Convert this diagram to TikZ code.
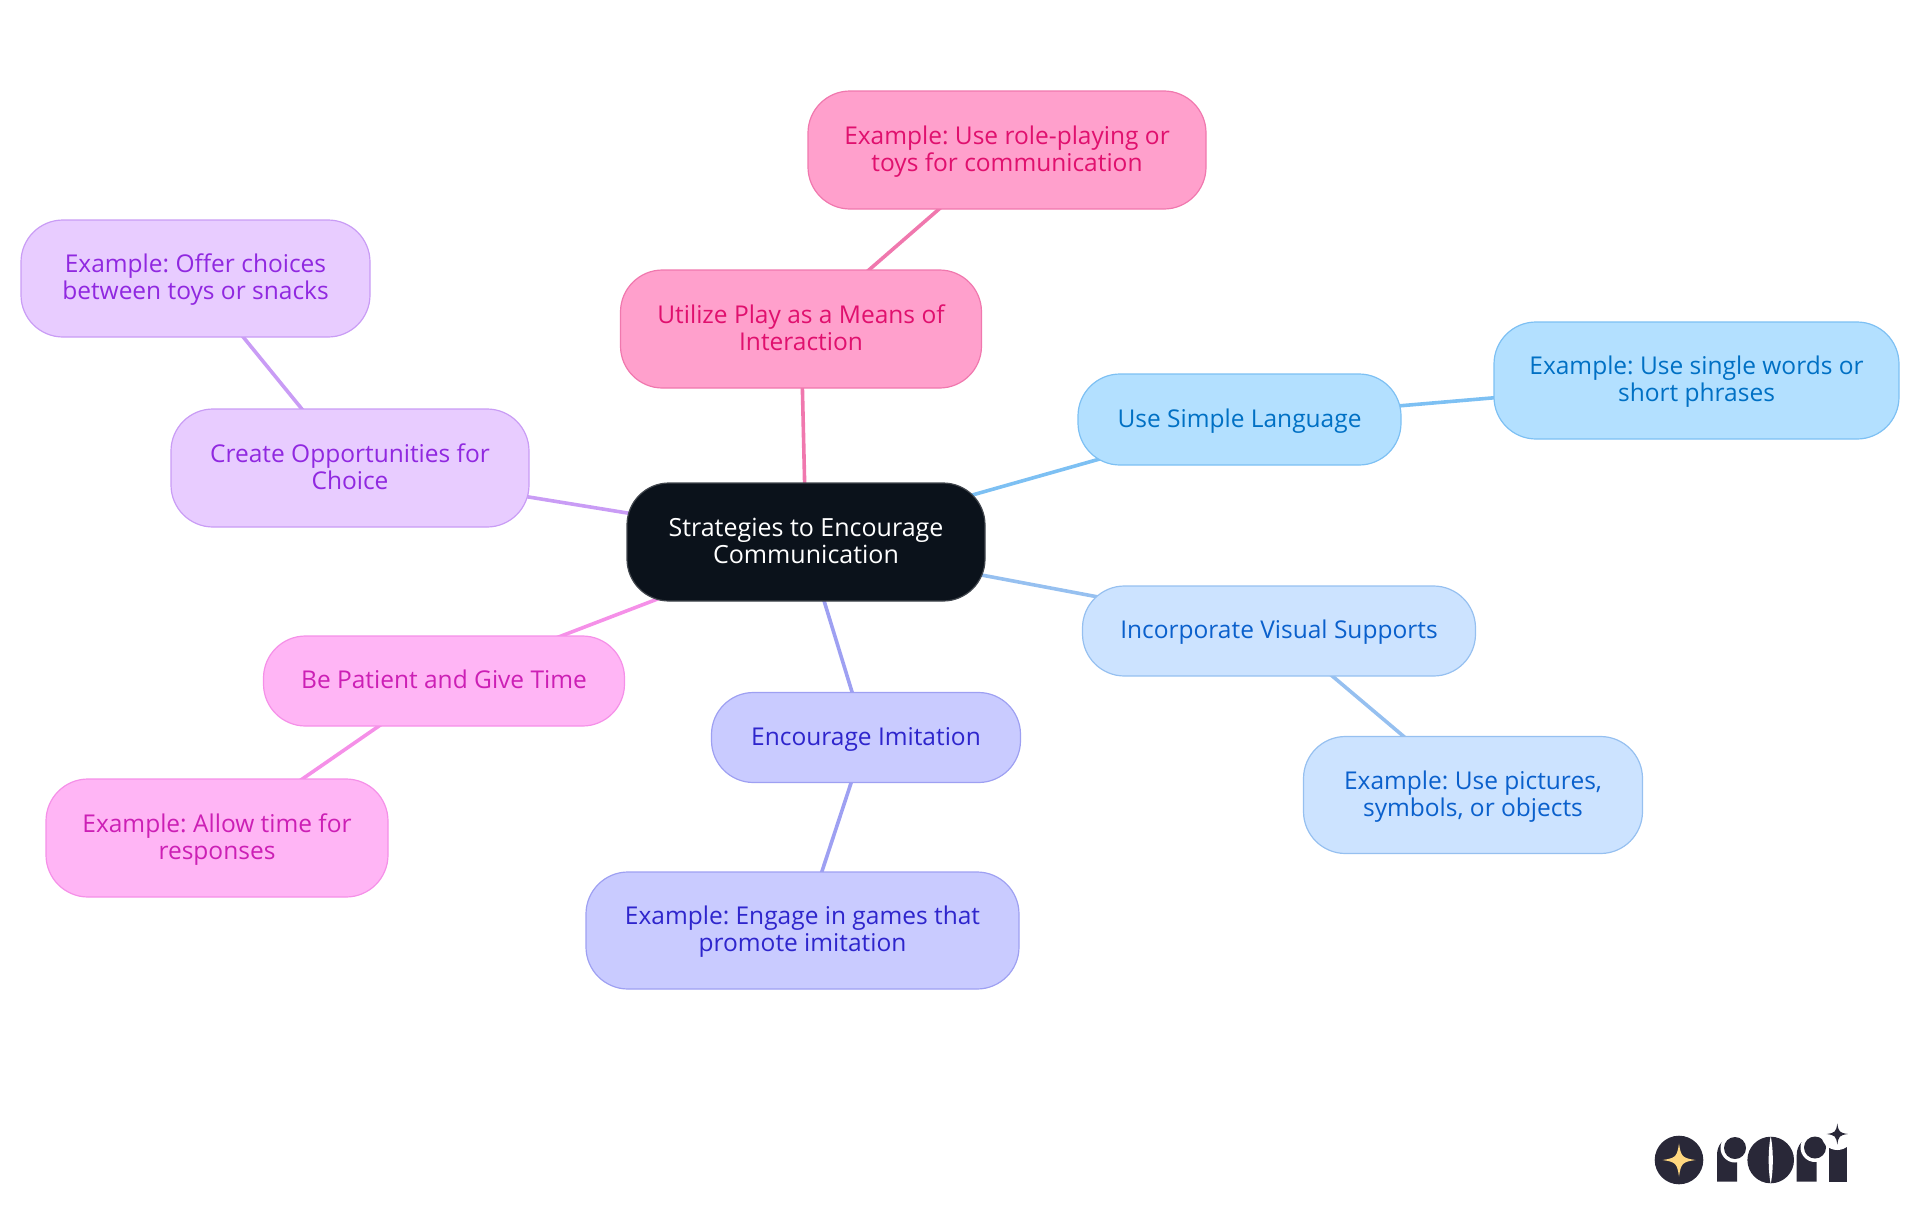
\documentclass[tikz,border=0pt]{standalone}
\usepackage{fontspec}
\setmainfont{Open Sans}
\frenchspacing
\usetikzlibrary{backgrounds}
\definecolor{rootF}{HTML}{0B121B}\definecolor{rootD}{HTML}{41464D}
\definecolor{skyF}{HTML}{B3E0FF}\definecolor{skyD}{HTML}{7DC0F3}\definecolor{skyT}{HTML}{0070C4}
\definecolor{paleF}{HTML}{CCE3FF}\definecolor{paleD}{HTML}{96C0F0}\definecolor{paleT}{HTML}{0A60CC}
\definecolor{indF}{HTML}{C9CBFF}\definecolor{indD}{HTML}{9EA0F2}\definecolor{indT}{HTML}{2E25CC}
\definecolor{magF}{HTML}{FFB5F5}\definecolor{magD}{HTML}{F590E8}\definecolor{magT}{HTML}{CC1FB5}
\definecolor{purF}{HTML}{E8CCFF}\definecolor{purD}{HTML}{C99CF5}\definecolor{purT}{HTML}{9028E0}
\definecolor{rosF}{HTML}{FFA0CC}\definecolor{rosD}{HTML}{F078AE}\definecolor{rosT}{HTML}{E0106E}
\definecolor{logoD}{HTML}{292838}\definecolor{logoS}{HTML}{FFD77F}
\tikzset{
 x=1pt,y=-1pt,
 box/.style={rectangle,rounded corners=42pt,line width=1.2pt,inner sep=0pt,
   font=\fontsize{24.5}{27}\selectfont},
 rootbox/.style={box,fill=rootF,draw=rootD,text=white,minimum width=358pt,minimum height=118pt,
   font=\fontsize{25}{27}\selectfont},
 sky/.style={box,fill=skyF,draw=skyD,text=skyT},
 pale/.style={box,fill=paleF,draw=paleD,text=paleT},
 ind/.style={box,fill=indF,draw=indD,text=indT},
 mag/.style={box,fill=magF,draw=magD,text=magT},
 pur/.style={box,fill=purF,draw=purD,text=purT},
 ros/.style={box,fill=rosF,draw=rosD,text=rosT},
 edge/.style={line width=3.6pt},
 logo/.style={fill=logoD,draw=none},
 gap/.style={fill=white,draw=none},
}
\newcommand{\boxtext}[1]{\raisebox{-8.5pt}[0pt][0pt]{\begin{tabular}{@{}c@{}}#1\end{tabular}}}
\newcommand{\fourstar}[4]{\fill[#4] (#1-#3,#2) .. controls (#1-#3*.2,#2-#3*.12) and (#1-#3*.12,#2-#3*.2) .. (#1,#2-#3)
  .. controls (#1+#3*.12,#2-#3*.2) and (#1+#3*.2,#2-#3*.12) .. (#1+#3,#2)
  .. controls (#1+#3*.2,#2+#3*.12) and (#1+#3*.12,#2+#3*.2) .. (#1,#2+#3)
  .. controls (#1-#3*.12,#2+#3*.2) and (#1-#3*.2,#2+#3*.12) .. (#1-#3,#2) -- cycle;}
\begin{document}
\begin{tikzpicture}
\useasboundingbox (0,0) rectangle (1920,1215);
\node[rootbox] (root) at (806,542) {\boxtext{Strategies to Encourage\\Communication}};
\node[ros,minimum width=361pt,minimum height=118pt] (play) at (801,329) {\boxtext{Utilize Play as a Means of\\Interaction}};
\node[ros,minimum width=398pt,minimum height=118pt] (playx) at (1007,150) {\boxtext{Example: Use role-playing or\\toys for communication}};
\node[pur,minimum width=358pt,minimum height=118pt] (choice) at (350,468) {\boxtext{Create Opportunities for\\Choice}};
\node[pur,minimum width=349pt,minimum height=117pt] (choicex) at (195.5,278.5) {\boxtext{Example: Offer choices\\between toys or snacks}};
\node[sky,minimum width=323pt,minimum height=91pt] (simple) at (1239.5,419.5) {\boxtext{Use Simple Language}};
\node[sky,minimum width=405pt,minimum height=117pt] (simplex) at (1696.5,380.5) {\boxtext{Example: Use single words or\\short phrases}};
\node[pale,minimum width=393pt,minimum height=90pt] (visual) at (1279,631) {\boxtext{Incorporate Visual Supports}};
\node[pale,minimum width=339pt,minimum height=117pt] (visualx) at (1473,795) {\boxtext{Example: Use pictures,\\symbols, or objects}};
\node[ind,minimum width=309pt,minimum height=90pt] (imit) at (866,737.5) {\boxtext{Encourage Imitation}};
\node[ind,minimum width=433pt,minimum height=117pt] (imitx) at (802.5,930.5) {\boxtext{Example: Engage in games that\\promote imitation}};
\node[mag,minimum width=361pt,minimum height=90pt] (patient) at (444,681) {\boxtext{Be Patient and Give Time}};
\node[mag,minimum width=342pt,minimum height=118pt] (patientx) at (217,838) {\boxtext{Example: Allow time for\\responses}};
\begin{scope}[on background layer]
\draw[edge,rosD] (root.center) -- (play.center);
\draw[edge,rosD] (play.center) -- (playx.center);
\draw[edge,purD] (root.center) -- (choice.center);
\draw[edge,purD] (choice.center) -- (choicex.center);
\draw[edge,skyD] (root.center) -- (simple.center);
\draw[edge,skyD] (simple.center) -- (simplex.center);
\draw[edge,paleD] (root.center) -- (visual.center);
\draw[edge,paleD] (visual.center) -- (visualx.center);
\draw[edge,indD] (root.center) -- (imit.center);
\draw[edge,indD] (imit.center) -- (imitx.center);
\draw[edge,magD] (root.center) -- (patient.center);
\draw[edge,magD] (patient.center) -- (patientx.center);
\end{scope}
% logo
\fill[logo] (1679,1160) circle (24.3);
\fourstar{1679}{1160}{16.5}{logoS}
\fill[logo] (1717,1181.7) -- (1717,1155) .. controls (1717,1145) and (1723,1138) .. (1733,1138) -- (1737,1138) -- (1737,1181.7) -- cycle;
\fill[gap] (1735,1148) circle (14.5);
\fill[logo] (1735,1148) circle (11);
\fill[logo] (1770.7,1160) circle (23.3);
\fill[gap] (1770.7,1136) .. controls (1773.5,1150) and (1773.5,1170) .. (1770.7,1184) .. controls (1768,1170) and (1768,1150) .. (1770.7,1136) -- cycle;
\fill[logo] (1796.7,1181.7) -- (1796.7,1155) .. controls (1796.7,1145) and (1803,1138) .. (1813,1138) -- (1816.7,1138) -- (1816.7,1181.7) -- cycle;
\fill[gap] (1815,1147.5) circle (14.5);
\fill[logo] (1815,1147.5) circle (11);
\fill[logo] (1829,1147) rectangle (1846.7,1181.7);
\fill[gap] (1837.3,1134) circle (16);
\fourstar{1837.3}{1134}{10.6}{logoD}
\end{tikzpicture}
\end{document}
